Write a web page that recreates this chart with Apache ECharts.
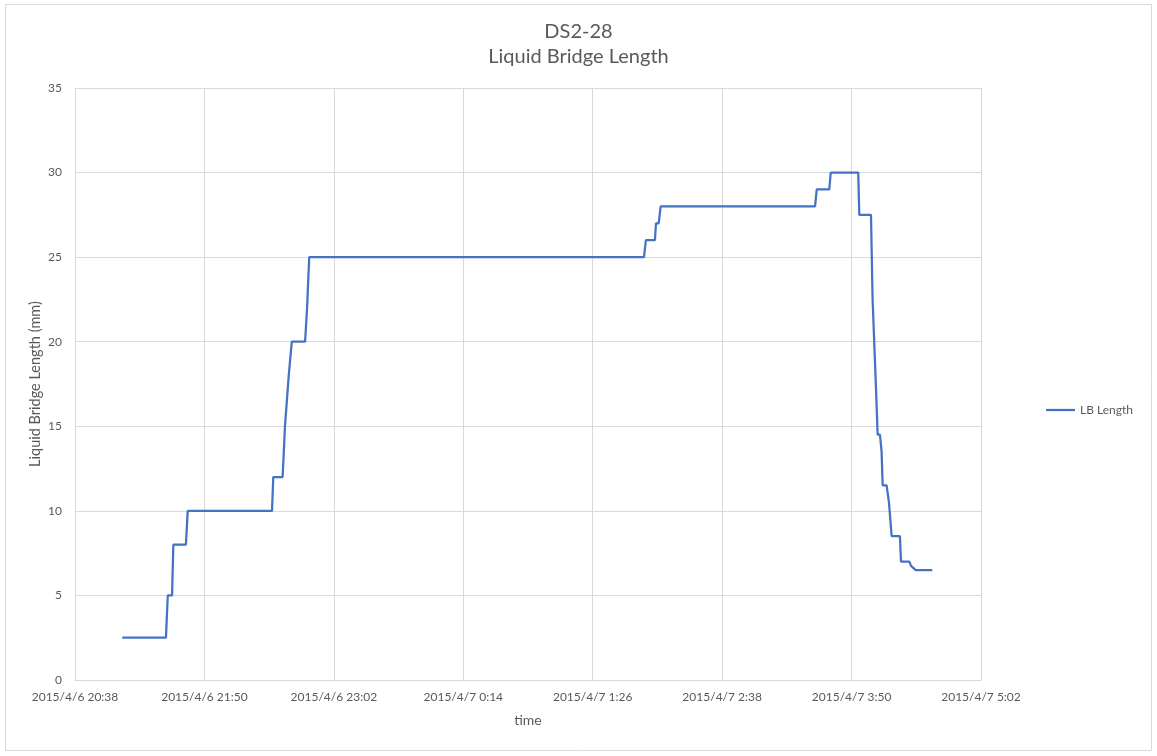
<!DOCTYPE html>
<html>
<head>
<meta charset="utf-8">
<script src="https://cdn.jsdelivr.net/npm/echarts@6/dist/echarts.min.js"></script>
<style>
html,body{margin:0;padding:0;background:#fff;}
#chart{width:1157px;height:756px;}
</style>
</head>
<body>
<div id="chart"></div>
<script>
// Elapsed minutes since 2015/4/6 20:38
const timeMin = [26.3, 50.6, 51.6, 54.0, 54.7, 61.7, 62.7, 109.6, 110.3, 115.5, 116.8, 117.8, 118.9, 120.6, 128.0, 129.1, 130.3,
  316.5, 317.6, 322.6, 323.2, 324.7, 325.8, 411.7, 412.6, 419.6, 420.4, 435.7, 436.3, 442.8, 443.7, 444.4, 445.5, 446.5,
  447.8, 448.7, 449.3, 451.5, 452.8, 453.8, 454.3, 458.9, 459.5, 464.1, 465.1, 467.7, 476.9];
const lbLength = [2.5, 2.5, 5, 5, 8, 8, 10, 10, 12, 12, 15, 15, 18, 20, 20, 22, 25,
  25, 26, 26, 27, 27, 28, 28, 29, 29, 30, 30, 27.5, 27.5, 22.5, 22.5, 17.5, 14.5,
  14.5, 13.5, 11.5, 11.5, 10.5, 10.5, 8.5, 8.5, 7, 7, 6.75, 6.5, 6.5];
const xTickStep = 72; // minutes
const xMax = 504;
const yMax = 35;
const yStep = 5;
const baseDay = 6, baseMinOfDay = 20 * 60 + 38;

function fmtTime(v) {
  const total = baseMinOfDay + Math.round(v);
  const day = baseDay + Math.floor(total / 1440);
  const rem = total % 1440;
  const h = Math.floor(rem / 60), m = rem % 60;
  return '2015/4/' + day + ' ' + h + ':' + (m < 10 ? '0' + m : m);
}

const data = timeMin.map((t, i) => [t, lbLength[i]]);
const font = 'Lato, "Open Sans", sans-serif';
const chart = echarts.init(document.getElementById('chart'));
chart.setOption({
  backgroundColor: '#fff',
  animation: false,
  title: {
    text: 'DS2-28\nLiquid Bridge Length',
    left: 'center',
    top: 14,
    textStyle: { fontFamily: font, fontSize: 20, fontWeight: 'normal', color: '#595959', lineHeight: 25 }
  },
  graphic: [{
    type: 'rect', shape: { x: 5.5, y: 4.5, width: 1146, height: 746 },
    style: { fill: 'none', stroke: '#d9d9d9', lineWidth: 1 }, silent: true
  }],
  grid: { left: 75, right: 176, top: 88, bottom: 76, containLabel: false },
  legend: {
    orient: 'vertical', left: 1041, top: 399,
    icon: 'rect', itemWidth: 29, itemHeight: 2.25, itemGap: 5,
    textStyle: { fontFamily: font, fontSize: 12, color: '#595959' },
    data: ['LB Length']
  },
  xAxis: {
    type: 'value', min: 0, max: xMax, interval: xTickStep,
    name: 'time', nameLocation: 'middle', nameGap: 33,
    nameTextStyle: { fontFamily: font, fontSize: 14, color: '#595959' },
    axisLine: { show: true, lineStyle: { color: '#d9d9d9', width: 1 } },
    axisTick: { show: false },
    splitLine: { show: true, lineStyle: { color: '#d9d9d9', width: 1 } },
    axisLabel: { formatter: fmtTime, margin: 11, fontFamily: font, fontSize: 12, color: '#595959', showMinLabel: true, showMaxLabel: true }
  },
  yAxis: {
    type: 'value', min: 0, max: yMax, interval: yStep,
    name: 'Liquid Bridge Length (mm)', nameLocation: 'middle', nameGap: 32, nameRotate: 90,
    nameMoveOverlap: false,
    nameTextStyle: { fontFamily: font, fontSize: 14.5, color: '#595959' },
    axisLine: { show: false }, axisTick: { show: false },
    splitLine: { show: true, lineStyle: { color: '#d9d9d9', width: 1 } },
    axisLabel: { margin: 13, fontFamily: font, fontSize: 12, color: '#595959' }
  },
  series: [{
    name: 'LB Length', type: 'line', data: data,
    showSymbol: false, symbol: 'none',
    lineStyle: { color: '#4472C4', width: 2.25 },
    itemStyle: { color: '#4472C4' }
  }]
});
</script>
</body>
</html>
